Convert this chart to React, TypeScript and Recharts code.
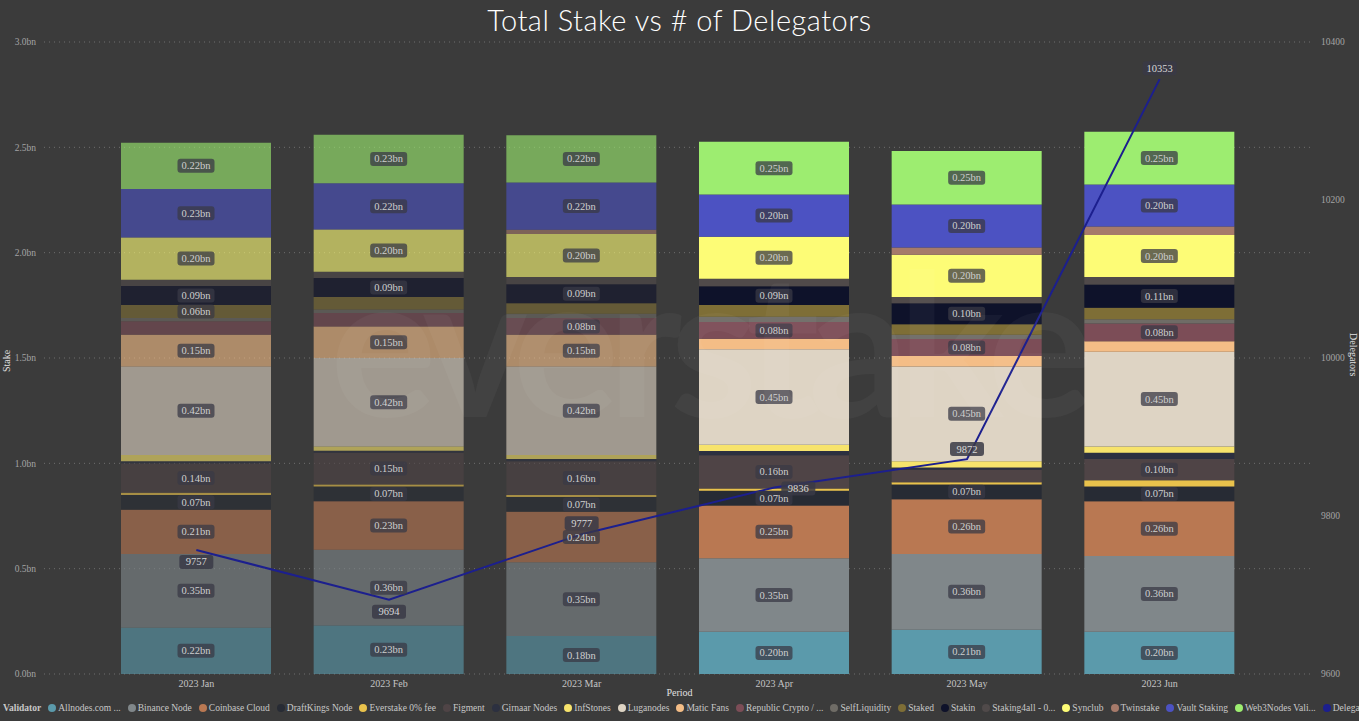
import { Bar, CartesianGrid, Cell, ComposedChart, LabelList, Line, XAxis, YAxis } from "recharts"

const months = ["2023 Jan", "2023 Feb", "2023 Mar", "2023 Apr", "2023 May", "2023 Jun"]

// stake per validator, in bn
const allnodes = [0.22, 0.23, 0.18, 0.2, 0.21, 0.2]
const binance = [0.35, 0.36, 0.35, 0.35, 0.36, 0.36]
const coinbase = [0.21, 0.23, 0.24, 0.25, 0.26, 0.26]
const draftkings = [0.07, 0.07, 0.07, 0.07, 0.07, 0.07]
const everstake = [0.01, 0.01, 0.01, 0.01, 0.01, 0.03]
const figment = [0.14, 0.15, 0.16, 0.158, 0.06, 0.1]
const girnaar = [0.01, 0.01, 0.01, 0.02, 0.01, 0.03]
const infstones = [0.03, 0.02, 0.02, 0.03, 0.03, 0.03]
const luganodes = [0.42, 0.42, 0.42, 0.453, 0.45, 0.45]
const maticFans = [0.15, 0.15, 0.15, 0.05, 0.05, 0.05]
const republic = [0.064, 0.064, 0.08, 0.08, 0.08, 0.084]
const selfLiquidity = [0.016, 0.016, 0.02, 0.025, 0.02, 0.02]
const staked = [0.062, 0.06, 0.05, 0.055, 0.05, 0.055]
const stakin = [0.09, 0.09, 0.09, 0.09, 0.1, 0.11]
const staking4all = [0.03, 0.03, 0.035, 0.035, 0.03, 0.035]
const synclub = [0.2, 0.2, 0.204, 0.2, 0.2, 0.2]
const twinstake = [0, 0, 0.02, 0, 0.035, 0.04]
const vaultStaking = [0.23, 0.22, 0.224, 0.2, 0.204, 0.2]
const web3Nodes = [0.22, 0.23, 0.224, 0.25, 0.254, 0.25]

const delegators = [9757, 9694, 9777, 9836, 9872, 10353]

const stakeTicks = [0, 0.5, 1, 1.5, 2, 2.5, 3]
const delegatorTicks = [9600, 9800, 10000, 10200, 10400]

const series = [
  { key: "allnodes", name: "Allnodes.com ...", color: "#5b9aab", values: allnodes },
  { key: "binance", name: "Binance Node", color: "#80878a", values: binance },
  { key: "coinbase", name: "Coinbase Cloud", color: "#b97852", values: coinbase },
  { key: "draftkings", name: "DraftKings Node", color: "#272b34", values: draftkings },
  { key: "everstake", name: "Everstake 0% fee", color: "#e9c24c", values: everstake },
  { key: "figment", name: "Figment", color: "#4f4446", values: figment },
  { key: "girnaar", name: "Girnaar Nodes", color: "#2c3040", values: girnaar },
  { key: "infstones", name: "InfStones", color: "#f7e36c", values: infstones },
  { key: "luganodes", name: "Luganodes", color: "#ded4c4", values: luganodes },
  { key: "maticFans", name: "Matic Fans", color: "#f4bd86", values: maticFans },
  { key: "republic", name: "Republic Crypto / ...", color: "#7c4d57", values: republic },
  { key: "selfLiquidity", name: "SelfLiquidity", color: "#6f6c66", values: selfLiquidity },
  { key: "staked", name: "Staked", color: "#7e6e36", values: staked },
  { key: "stakin", name: "Stakin", color: "#0e122a", values: stakin },
  { key: "staking4all", name: "Staking4all - 0...", color: "#504a4a", values: staking4all },
  { key: "synclub", name: "Synclub", color: "#fdfc76", values: synclub },
  { key: "twinstake", name: "Twinstake", color: "#a67a6a", values: twinstake },
  { key: "vaultStaking", name: "Vault Staking", color: "#4c52c2", values: vaultStaking },
  { key: "web3Nodes", name: "Web3Nodes Vali...", color: "#9ded70", values: web3Nodes },
]

const lineColor = "#1c1f8e"
const extraLabels = ["staked-0"]
// where each delegator label sits relative to its point
const lineLabelOffsets = [
  [0, 12],
  [0, 12],
  [0, -11],
  [24, 1],
  [0, -10],
  [0, -11],
]

const data = months.map((month, i) => {
  const row: Record<string, number | string> = { month, delegators: delegators[i] }
  series.forEach((s) => (row[s.key] = s.values[i]))
  return row
})

const serif = "Liberation Serif, serif"

function SegLabel(props: any) {
  const { x, y, width, height, value, index, skey } = props
  if (value == null) return null
  if (value < 0.065 && !extraLabels.includes(`${skey}-${index}`)) return null
  const cx = x + width / 2
  const cy = y + height / 2
  const text = `${Number(value).toFixed(2)}bn`
  return (
    <g>
      <rect x={cx - 18.5} y={cy - 7} width={37} height={14} rx={3} fill="#3a3a46" fillOpacity={0.75} />
      <text x={cx} y={cy + 3.5} textAnchor="middle" fontSize={10.5} fontFamily={serif} fill="#cfcfcf">
        {text}
      </text>
    </g>
  )
}

function LineLabel(props: any) {
  const { x, y, value, index } = props
  const [dx, dy] = lineLabelOffsets[index] || [0, -11]
  const cx = x + dx
  const cy = y + dy
  return (
    <g>
      <rect x={cx - 17} y={cy - 7} width={34} height={14} rx={3} fill="#3a3a46" fillOpacity={0.85} />
      <text x={cx} y={cy + 3.5} textAnchor="middle" fontSize={10.5} fontFamily={serif} fill="#d8d8d8">
        {value}
      </text>
    </g>
  )
}

export default function App() {
  return (
    <div style={{ position: "relative", width: 1359, height: 721, background: "#3b3b3b", overflow: "hidden" }}>
      <style>{`body{margin:0;background:#3b3b3b}`}</style>
      <div
        style={{
          position: "absolute",
          top: 2,
          left: 0,
          width: 1359,
          textAlign: "center",
          fontFamily: "Lato, 'Open Sans', sans-serif",
          fontWeight: 300,
          fontSize: 29,
          letterSpacing: 0.5,
          color: "#ffffff",
        }}
      >
        Total Stake vs # of Delegators
      </div>
      <div style={{ position: "absolute", left: 0, top: 0 }}>
        <ComposedChart width={1359} height={721} data={data} margin={{ top: 42, right: 0, bottom: 27, left: 0 }}>
          <CartesianGrid vertical={false} yAxisId="left" strokeDasharray="1 4" stroke="#6e6e6e" />
          <XAxis
            dataKey="month"
            padding={{ left: 56, right: 57 }}
            height={20}
            axisLine={false}
            tickLine={false}
            tickSize={3}
            tickMargin={3}
            tick={{ fontSize: 10, fill: "#c4c4c4", fontFamily: serif }}
          />
          <YAxis
            yAxisId="left"
            width={44}
            domain={[0, 3]}
            ticks={stakeTicks}
            axisLine={false}
            tickLine={false}
            tickFormatter={(v) => `${v.toFixed(1)}bn`}
            tick={{ fontSize: 9.5, fill: "#a4a4a4", fontFamily: serif }}
          />
          <YAxis
            yAxisId="right"
            orientation="right"
            width={46}
            domain={[9600, 10400]}
            ticks={delegatorTicks}
            axisLine={false}
            tickLine={false}
            tick={{ fontSize: 9.5, fill: "#a4a4a4", fontFamily: serif }}
          />
          {series.map((s) => (
            <Bar key={s.key} yAxisId="left" dataKey={s.key} stackId="a" fill={s.color} barSize={150} isAnimationActive={false}>
              {months.map((m, i) => (
                <Cell key={m} fillOpacity={i < 3 ? 0.62 : 1} />
              ))}
              <LabelList dataKey={s.key} content={(p: any) => <SegLabel {...p} skey={s.key} />} />
            </Bar>
          ))}
          <Line
            yAxisId="right"
            dataKey="delegators"
            stroke={lineColor}
            strokeWidth={2}
            dot={false}
            isAnimationActive={false}
            label={(p: any) => <LineLabel {...p} />}
          />
        </ComposedChart>
      </div>
      <div
        style={{
          position: "absolute",
          left: 330,
          top: 240,
          fontFamily: "Lato, sans-serif",
          fontWeight: 700,
          fontSize: 200,
          letterSpacing: -12,
          color: "rgba(255,255,255,0.04)",
          pointerEvents: "none",
          lineHeight: 1,
        }}
      >
        everstake
      </div>
      <div
        style={{
          position: "absolute",
          left: 1,
          top: 372,
          transform: "rotate(-90deg)",
          transformOrigin: "left top",
          fontFamily: serif,
          fontSize: 10,
          color: "#e0e0e0",
        }}
      >
        Stake
      </div>
      <div
        style={{
          position: "absolute",
          left: 1359,
          top: 333,
          transform: "rotate(90deg)",
          transformOrigin: "left top",
          fontFamily: serif,
          fontSize: 10,
          color: "#e0e0e0",
          whiteSpace: "nowrap",
        }}
      >
        Delegators
      </div>
      <div
        style={{
          position: "absolute",
          left: 0,
          top: 687,
          width: 1359,
          textAlign: "center",
          fontFamily: serif,
          fontSize: 10,
          color: "#e0e0e0",
        }}
      >
        Period
      </div>
      <div
        style={{
          position: "absolute",
          left: 3,
          top: 703,
          width: 1356,
          overflow: "hidden",
          whiteSpace: "nowrap",
          display: "flex",
          alignItems: "center",
          fontFamily: serif,
          fontSize: 9.5,
          color: "#c8c8c8",
        }}
      >
        <span style={{ fontWeight: 700, marginRight: 7 }}>Validator</span>
        {[...series, { key: "delegators", name: "Delegators", color: lineColor }].map((s) => (
          <span key={s.key} style={{ display: "inline-flex", alignItems: "center", marginRight: 7, flexShrink: 0 }}>
            <span
              style={{
                display: "inline-block",
                width: 8,
                height: 8,
                borderRadius: 4,
                background: s.color,
                marginRight: 2,
              }}
            />
            {s.name}
          </span>
        ))}
      </div>
    </div>
  )
}
